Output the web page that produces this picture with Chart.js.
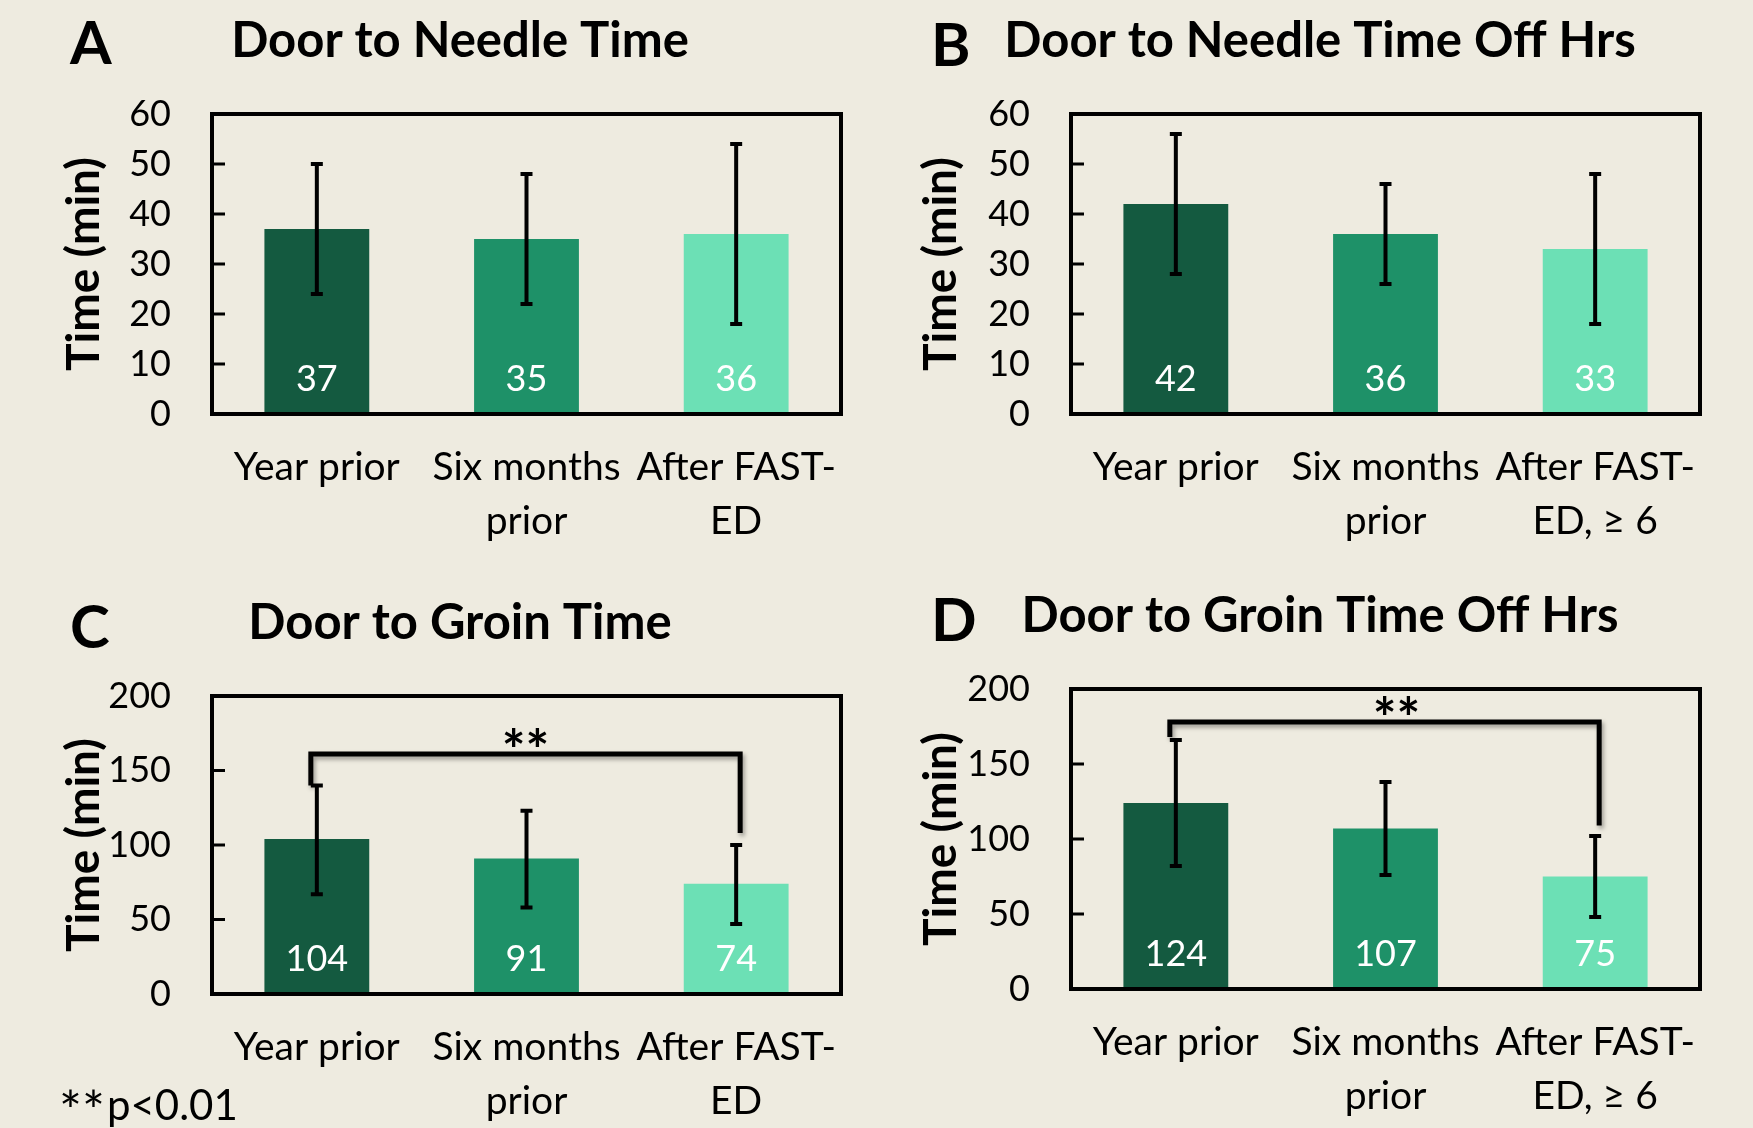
<!DOCTYPE html>
<html>
<head>
<meta charset="utf-8">
<script src="https://cdn.jsdelivr.net/npm/chart.js@4.4.1/dist/chart.umd.min.js"></script>
<style>
  body { margin: 0; background: #EEEBE0; width: 1753px; height: 1128px; overflow: hidden; position: relative; }
  .panel { position: absolute; }
</style>
</head>
<body>
<div class="panel" style="left:0;top:0;width:876px;height:560px"><canvas id="chartA"></canvas></div>
<div class="panel" style="left:876px;top:0;width:877px;height:560px"><canvas id="chartB"></canvas></div>
<div class="panel" style="left:0;top:560px;width:876px;height:568px"><canvas id="chartC"></canvas></div>
<div class="panel" style="left:876px;top:560px;width:877px;height:568px"><canvas id="chartD"></canvas></div>
<script>
// ── data ─────────────────────────────────────────
const LABELS_IN_HRS  = [['Year prior'], ['Six months', 'prior'], ['After FAST-', 'ED']];
const LABELS_OFF_HRS = [['Year prior'], ['Six months', 'prior'], ['After FAST-', 'ED, ≥ 6']];

const NEEDLE_MEAN = [37, 35, 36];
const NEEDLE_LOW  = [24, 22, 18];
const NEEDLE_HIGH = [50, 48, 54];

const NEEDLE_OFF_MEAN = [42, 36, 33];
const NEEDLE_OFF_LOW  = [28, 26, 18];
const NEEDLE_OFF_HIGH = [56, 46, 48];

const GROIN_MEAN = [104, 91, 74];
const GROIN_LOW  = [67, 58, 47];
const GROIN_HIGH = [140, 123, 100];

const GROIN_OFF_MEAN = [124, 107, 75];
const GROIN_OFF_LOW  = [82, 76, 48];
const GROIN_OFF_HIGH = [166, 138, 102];

// significance bracket: [bar level, left leg end, right leg end] in minutes
const GROIN_BRACKET     = [161, 140, 108];
const GROIN_OFF_BRACKET = [178, 168, 109];

const NEEDLE_AXIS = [0, 60, 10];   // min, max, step
const GROIN_AXIS  = [0, 200, 50];

const BAR_COLORS = ['#145A40', '#1E9168', '#6CE0B5'];
const INK = '#000';
const FONT = 'Lato';

Chart.defaults.font.family = FONT;
Chart.defaults.color = INK;

// draw text so that its glyphs are vertically centred on cy
function fillCentred(ctx, text, x, cy) {
  const m = ctx.measureText(text);
  ctx.fillText(text, x, cy + (m.actualBoundingBoxAscent - m.actualBoundingBoxDescent) / 2);
}

// ── per-panel drawing: labels, error bars, frame, heading ─────
function decorPlugin(cfg) {
  return {
    id: 'panelDecor',
    afterDatasetsDraw(chart) {
      const { ctx, chartArea: area, scales: { y } } = chart;
      const bars = chart.getDatasetMeta(0).data;
      ctx.save();

      // values inside bars
      ctx.fillStyle = '#fff';
      ctx.font = `36px ${FONT}`;
      ctx.textAlign = 'center';
      ctx.textBaseline = 'alphabetic';
      bars.forEach((bar, i) => fillCentred(ctx, String(cfg.mean[i]), bar.x, area.bottom - 36));

      // error bars
      ctx.strokeStyle = INK;
      ctx.lineWidth = 4;
      bars.forEach((bar, i) => {
        const top = y.getPixelForValue(cfg.high[i]);
        const bot = y.getPixelForValue(cfg.low[i]);
        ctx.beginPath();
        ctx.moveTo(bar.x, top); ctx.lineTo(bar.x, bot);
        ctx.moveTo(bar.x - 6, top); ctx.lineTo(bar.x + 6, top);
        ctx.moveTo(bar.x - 6, bot); ctx.lineTo(bar.x + 6, bot);
        ctx.stroke();
      });

      // plot frame + inside tick marks
      ctx.lineWidth = 4;
      ctx.strokeRect(area.left, area.top, area.width, area.height);
      ctx.lineWidth = 3;
      y.ticks.forEach(t => {
        const py = y.getPixelForValue(t.value);
        ctx.beginPath();
        ctx.moveTo(area.left, py);
        ctx.lineTo(area.left + 13, py);
        ctx.stroke();
      });

      // significance bracket
      if (cfg.bracket) {
        const [level, leftEnd, rightEnd] = cfg.bracket;
        const x0 = bars[0].x - 6, x1 = bars[2].x + 4;
        const yTop = y.getPixelForValue(level);
        ctx.save();
        ctx.shadowColor = 'rgba(0,0,0,0.35)';
        ctx.shadowBlur = 4;
        ctx.shadowOffsetX = 2;
        ctx.shadowOffsetY = 3;
        ctx.lineWidth = 5;
        ctx.lineJoin = 'miter';
        ctx.beginPath();
        ctx.moveTo(x0, y.getPixelForValue(leftEnd));
        ctx.lineTo(x0, yTop);
        ctx.lineTo(x1, yTop);
        ctx.lineTo(x1, y.getPixelForValue(rightEnd));
        ctx.stroke();
        ctx.restore();
        ctx.fillStyle = INK;
        ctx.font = `bold 56px ${FONT}`;
        ctx.textAlign = 'center';
        fillCentred(ctx, '**', (x0 + x1) / 2 + cfg.starShift, yTop - 17);
      }
      ctx.restore();
    },
    afterDraw(chart) {
      const { ctx } = chart;
      ctx.save();
      ctx.fillStyle = INK;
      ctx.textBaseline = 'alphabetic';
      ctx.textAlign = 'left';
      ctx.font = `bold 60px ${FONT}`;
      ctx.fillText(cfg.letter, cfg.letterAt[0], cfg.letterAt[1]);
      ctx.textAlign = 'center';
      ctx.font = `bold 49px ${FONT}`;
      ctx.fillText(cfg.title, cfg.titleAt[0], cfg.titleAt[1]);
      if (cfg.footnote) {
        const [stars, rest] = cfg.footnote;
        ctx.textAlign = 'left';
        ctx.font = `54px ${FONT}`;
        fillCentred(ctx, stars, cfg.footAt[0], cfg.footAt[1] - 22);
        const w = ctx.measureText(stars).width;
        ctx.font = `42px ${FONT}`;
        ctx.fillText(rest, cfg.footAt[0] + w + 2, cfg.footAt[1]);
      }
      ctx.restore();
    }
  };
}

function makePanel(canvasId, cfg) {
  const ctx = document.getElementById(canvasId);
  const [yMin, yMax, yStep] = cfg.axis;
  return new Chart(ctx, {
    type: 'bar',
    data: {
      labels: cfg.labels,
      datasets: [{
        data: cfg.mean,
        backgroundColor: BAR_COLORS,
        borderWidth: 0,
        barPercentage: 0.5,
        categoryPercentage: 1,
      }]
    },
    options: {
      responsive: true,
      maintainAspectRatio: false,
      animation: false,
      layout: { padding: { left: 0, right: cfg.padRight, top: cfg.padTop, bottom: 0 } },
      plugins: { legend: { display: false }, tooltip: { enabled: false } },
      scales: {
        x: {
          grid: { display: false, drawTicks: false },
          border: { display: false },
          ticks: {
            font: { size: 39, lineHeight: 1.38 },
            color: INK,
            padding: 27,
            maxRotation: 0,
            autoSkip: false,
          },
          afterFit: s => { s.height = cfg.xHeight; }
        },
        y: {
          min: yMin, max: yMax,
          grid: { display: false, drawTicks: false },
          border: { display: false },
          ticks: { stepSize: yStep, font: { size: 36 }, color: INK, padding: 41 },
          title: {
            display: true,
            text: 'Time (min)',
            font: { size: 46, weight: 'bold', lineHeight: 1.2 },
            color: INK,
            padding: { top: cfg.titlePad, bottom: 0 }
          },
          afterFit: s => { s.width = cfg.yWidth; }
        }
      }
    },
    plugins: [decorPlugin(cfg)]
  });
}

makePanel('chartA', {
  labels: LABELS_IN_HRS, mean: NEEDLE_MEAN, low: NEEDLE_LOW, high: NEEDLE_HIGH, axis: NEEDLE_AXIS,
  yWidth: 212, padRight: 35, padTop: 114, xHeight: 146, titlePad: 57,
  letter: 'A', letterAt: [70, 64], title: 'Door to Needle Time', titleAt: [460, 57],
});

makePanel('chartB', {
  labels: LABELS_OFF_HRS, mean: NEEDLE_OFF_MEAN, low: NEEDLE_OFF_LOW, high: NEEDLE_OFF_HIGH, axis: NEEDLE_AXIS,
  yWidth: 195, padRight: 53, padTop: 114, xHeight: 146, titlePad: 38,
  letter: 'B', letterAt: [55, 66], title: 'Door to Needle Time Off Hrs', titleAt: [444, 57],
});

makePanel('chartC', {
  labels: LABELS_IN_HRS, mean: GROIN_MEAN, low: GROIN_LOW, high: GROIN_HIGH, axis: GROIN_AXIS,
  yWidth: 212, padRight: 35, padTop: 136, xHeight: 134, titlePad: 57,
  letter: 'C', letterAt: [70, 88], title: 'Door to Groin Time', titleAt: [460, 79],
  bracket: GROIN_BRACKET, starShift: 0,
  footnote: ['**', 'p<0.01'], footAt: [59, 560],
});

makePanel('chartD', {
  labels: LABELS_OFF_HRS, mean: GROIN_OFF_MEAN, low: GROIN_OFF_LOW, high: GROIN_OFF_HIGH, axis: GROIN_AXIS,
  yWidth: 195, padRight: 53, padTop: 129, xHeight: 139, titlePad: 38,
  letter: 'D', letterAt: [55, 81], title: 'Door to Groin Time Off Hrs', titleAt: [444, 72],
  bracket: GROIN_OFF_BRACKET, starShift: 12,
});
</script>
</body>
</html>
